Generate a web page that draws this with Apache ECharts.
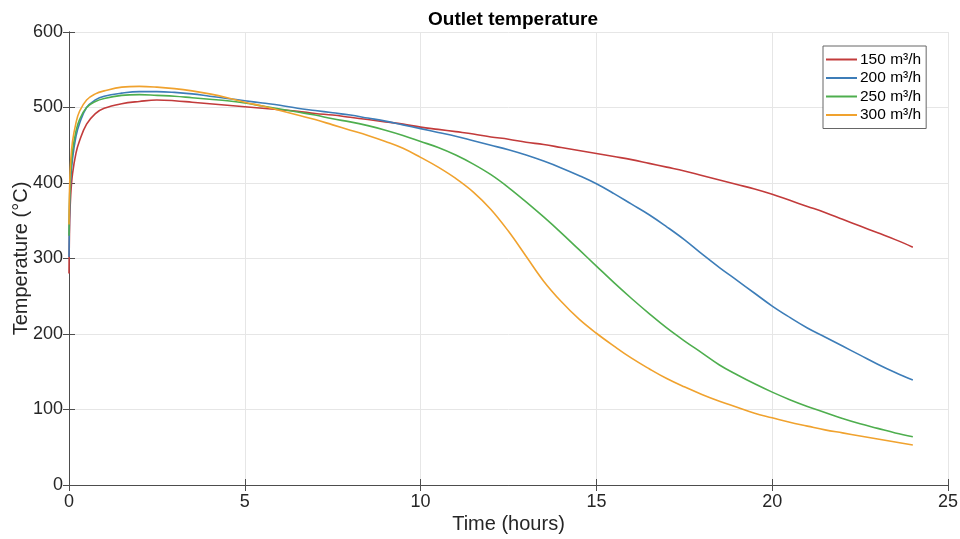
<!DOCTYPE html>
<html>
<head>
<meta charset="utf-8">
<script src="https://cdn.jsdelivr.net/npm/echarts@6/dist/echarts.min.js"></script>
<style>html,body{margin:0;padding:0;background:#fff}#c{width:960px;height:539px}</style>
</head>
<body>
<div id="c"></div>
<script>
var titleText = 'Outlet temperature';
var xName = 'Time (hours)';
var yName = 'Temperature (°C)';
var seriesNames = ['150 m³/h', '200 m³/h', '250 m³/h', '300 m³/h'];
var seriesColors = ['#C23B3B', '#3D7DB8', '#4EAE4E', '#F0A22E'];

var time = [0, 0.02, 0.05, 0.1, 0.2, 0.3, 0.5, 0.75,
  1, 1.5, 2, 2.5, 3, 3.5, 4, 4.5, 5, 5.5, 6, 6.5, 7, 7.5,
  8, 8.5, 9, 9.5, 10, 10.5, 11, 11.5, 12, 12.5, 13, 13.5, 14, 14.5, 15, 15.5,
  16, 16.5, 17, 17.5, 18, 18.5, 19, 19.5, 20, 20.5, 21, 21.5, 22, 22.5, 23, 23.5, 24];

var t150 = [280, 350, 385, 412, 440, 456, 478, 492,
  499, 505, 508, 510, 509, 507, 505, 503, 501, 499, 497, 495, 492, 490,
  487, 484, 481, 478, 474, 471, 468, 465, 461, 458, 454, 451, 447, 443, 439, 435,
  431, 426, 421, 416, 410, 404, 398, 392, 385, 377, 369, 361, 352, 343, 334, 325, 315];
var t200 = [302, 370, 405, 432, 462, 479, 500, 510,
  515, 519, 521, 521, 520, 518, 515, 512, 509, 506, 503, 499, 496, 493,
  490, 486, 482, 477, 472, 467, 462, 456, 450, 444, 437, 429, 420, 410, 399, 386,
  372, 358, 342, 325, 306, 288, 271, 254, 237, 222, 208, 196, 184, 172, 160, 149, 139];
var t250 = [330, 385, 415, 442, 469, 484, 500, 508,
  512, 516, 517, 516, 515, 513, 511, 509, 506, 502, 498, 494, 490, 485,
  481, 476, 470, 463, 455, 447, 437, 425, 411, 394, 375, 355, 334, 312, 290, 268,
  247, 227, 208, 191, 175, 159, 146, 134, 123, 113, 104, 96, 88, 81, 75, 69, 64];
var t300 = [345, 400, 430, 455, 480, 495, 510, 518,
  522, 527, 528, 527, 525, 522, 518, 513, 507, 502, 496, 490, 484, 477,
  470, 463, 455, 446, 434, 421, 406, 388, 365, 336, 303, 270, 243, 220, 201, 184,
  168, 154, 141, 130, 120, 111, 103, 95, 89, 83, 78, 73, 69, 65, 61, 57, 53];

var xTicks = [0, 5, 10, 15, 20, 25];
var yTicks = [0, 100, 200, 300, 400, 500, 600];

function pairs(vals) { return time.map(function (t, i) { return [t, vals[i]]; }); }
var allVals = [t150, t200, t250, t300];

var axisGray = '#4d4d4d';
var font = 'Liberation Sans, Arial, Helvetica, sans-serif';

var chart = echarts.init(document.getElementById('c'), null, {renderer: 'canvas'});
chart.setOption({
  backgroundColor: '#ffffff',
  animation: false,
  title: {
    text: titleText, left: 508, top: 5, textAlign: 'center',
    textStyle: {fontFamily: font, fontSize: 19, fontWeight: 'bold', color: '#000'}
  },
  legend: {
    data: seriesNames, orient: 'vertical', left: 823, top: 46,
    icon: 'rect', itemWidth: 31, itemHeight: 2, itemGap: 1.5,
    padding: [5, 5, 5, 3],
    backgroundColor: '#fff', borderColor: '#666', borderWidth: 1,
    textStyle: {fontFamily: font, fontSize: 15.5, color: '#000', lineHeight: 17, padding: [0, 0, 0, -2]}
  },
  grid: {left: 69, right: 12, top: 32, bottom: 54, containLabel: false, outerBoundsMode: 'none'},
  xAxis: [{
    type: 'value', min: xTicks[0], max: xTicks[xTicks.length - 1], interval: 5,
    name: xName, nameLocation: 'middle', nameGap: 29, nameMoveOverlap: false,
    nameTextStyle: {fontFamily: font, fontSize: 20, color: '#262626'},
    axisLine: {show: true, lineStyle: {color: axisGray, width: 1}},
    axisTick: {show: true, inside: true, length: 6, lineStyle: {color: axisGray}},
    axisLabel: {fontFamily: font, fontSize: 18, color: '#262626', margin: 8},
    splitLine: {show: true, lineStyle: {color: '#e6e6e6', width: 1}}
  }, {
    type: 'value', position: 'top', min: 0, max: 25, interval: 5,
    axisLine: {show: true, lineStyle: {color: axisGray, width: 1}},
    axisTick: {show: true, inside: true, length: 6, lineStyle: {color: axisGray}},
    axisLabel: {show: false}, splitLine: {show: false}
  }],
  yAxis: [{
    type: 'value', min: yTicks[0], max: yTicks[yTicks.length - 1], interval: 100,
    name: yName, nameLocation: 'middle', nameGap: 38, nameMoveOverlap: false,
    nameTextStyle: {fontFamily: font, fontSize: 20, color: '#262626'},
    axisLine: {show: true, lineStyle: {color: axisGray, width: 1}},
    axisTick: {show: true, inside: true, length: 6, lineStyle: {color: axisGray}},
    axisLabel: {fontFamily: font, fontSize: 18, color: '#262626', margin: 6},
    splitLine: {show: true, lineStyle: {color: '#e6e6e6', width: 1}}
  }, {
    type: 'value', position: 'right', min: 0, max: 600, interval: 100,
    axisLine: {show: true, lineStyle: {color: axisGray, width: 1}},
    axisTick: {show: true, inside: true, length: 6, lineStyle: {color: axisGray}},
    axisLabel: {show: false}, splitLine: {show: false}
  }],
  series: seriesNames.map(function (n, i) {
    return {
      name: n, type: 'line', data: pairs(allVals[i]), smooth: 0.4,
      showSymbol: false, symbol: 'none',
      lineStyle: {color: seriesColors[i], width: 1.6},
      itemStyle: {color: seriesColors[i]},
      xAxisIndex: 0, yAxisIndex: 0
    };
  })
});
</script>
</body>
</html>
